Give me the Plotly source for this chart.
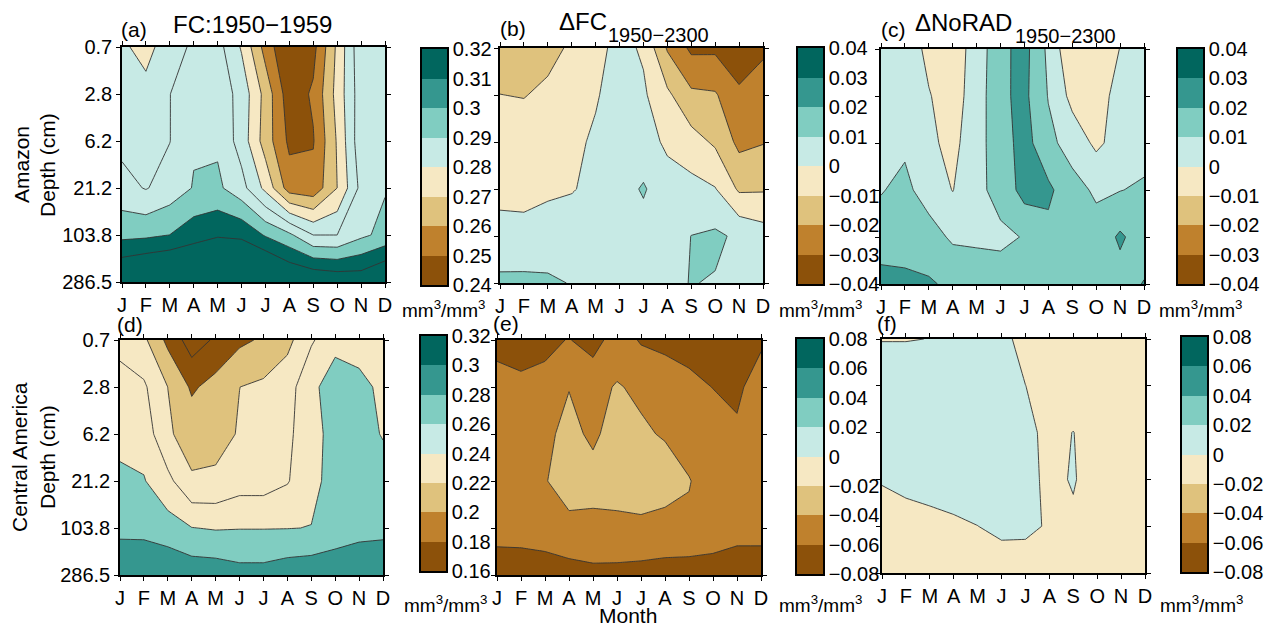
import plotly.graph_objects as go

# ---------------- data ----------------
months = ["J", "F", "M", "A", "M", "J", "J", "A", "S", "O", "N", "D"]
depth_labels = ["0.7", "2.8", "6.2", "21.2", "103.8", "286.5"]

# rows: soil depth (top -> bottom), columns: months J..D   (mm3/mm3)
fc_amazon = [
    [0.2815, 0.277, 0.2849, 0.292, 0.2937, 0.279, 0.2561, 0.2392, 0.2469, 0.272, 0.2976, 0.295],
    [0.2835, 0.2828, 0.2899, 0.294, 0.296, 0.2865, 0.2665, 0.244, 0.2515, 0.2735, 0.2959, 0.295],
    [0.2874, 0.287, 0.2898, 0.299, 0.2984, 0.2857, 0.2653, 0.2479, 0.2493, 0.271, 0.297, 0.2955],
    [0.2933, 0.2894, 0.2943, 0.3006, 0.302, 0.2935, 0.2774, 0.255, 0.2533, 0.270, 0.293, 0.2993],
    [0.3073, 0.3080, 0.3101, 0.316, 0.319, 0.3182, 0.309, 0.302, 0.290, 0.290, 0.298, 0.3028],
    [0.334, 0.3385, 0.341, 0.338, 0.34, 0.338, 0.342, 0.333, 0.331, 0.3285, 0.327, 0.334],
]
dfc_amazon = [
    [-0.015, -0.016, -0.013, -0.0085, -0.003, 0.003, -0.0013, -0.021, -0.032, -0.0318, -0.037, -0.032],
    [-0.0099, -0.0104, -0.008, -0.005, -0.0008, 0.004, 0.0015, -0.008, -0.018, -0.019, -0.028, -0.024],
    [-0.005, -0.005, -0.004, -0.002, 0.0013, 0.005, 0.004, -0.0017, -0.006, -0.0115, -0.0225, -0.0205],
    [-0.0045, -0.0049, -0.0026, -0.0009, 0.0036, 0.006, 0.011, 0.004, 0.0031, 0.0005, -0.0115, -0.011],
    [0.0055, 0.005, 0.0074, 0.008, 0.006, 0.006, 0.006, 0.006, 0.0101, 0.0117, 0.0083, 0.0045],
    [0.0114, 0.0116, 0.0107, 0.0098, 0.006, 0.005, 0.006, 0.008, 0.0103, 0.0094, 0.005, 0.004],
]
dnorad_amazon = [
    [0.005, 0.005, -0.0021, -0.005, 0.0041, 0.0175, 0.0233, 0.0078, -0.0085, -0.006, 0.0002, 0.004],
    [0.006, 0.0065, 0.0005, -0.004, 0.0045, 0.0183, 0.0223, 0.0095, -0.003, -0.004, 0.0033, 0.005],
    [0.007, 0.0085, 0.002, -0.0028, 0.0065, 0.0153, 0.024, 0.0125, 0.006, -0.002, 0.004, 0.006],
    [0.0095, 0.0122, 0.0059, -0.0003, 0.008, 0.0127, 0.024, 0.022, 0.0135, 0.0085, 0.0097, 0.0115],
    [0.014, 0.015, 0.0139, 0.0085, 0.0085, 0.0085, 0.0104, 0.0172, 0.016, 0.0139, 0.0215, 0.015],
    [0.0242, 0.0226, 0.0212, 0.0179, 0.015, 0.0135, 0.015, 0.015, 0.015, 0.015, 0.016, 0.0205],
]
fc_camerica = [
    [0.235, 0.224, 0.195, 0.17, 0.183, 0.196, 0.2027, 0.214, 0.238, 0.2513, 0.252, 0.25],
    [0.2461, 0.243, 0.2199, 0.197, 0.2073, 0.2199, 0.2238, 0.2328, 0.2528, 0.275, 0.2653, 0.256],
    [0.253, 0.252, 0.2225, 0.212, 0.214, 0.2213, 0.229, 0.236, 0.252, 0.268, 0.272, 0.258],
    [0.2649, 0.2612, 0.2456, 0.2223, 0.2231, 0.2313, 0.2313, 0.2385, 0.255, 0.2666, 0.275, 0.2734],
    [0.279, 0.279, 0.2685, 0.2605, 0.2585, 0.2593, 0.2593, 0.2595, 0.2604, 0.277, 0.2785, 0.279],
    [0.2832, 0.283, 0.2973, 0.293, 0.292, 0.2873, 0.2873, 0.292, 0.294, 0.2837, 0.2835, 0.283],
]
dfc_camerica = [
    [-0.065, -0.068, -0.065, -0.059, -0.069, -0.049, -0.062, -0.066, -0.07, -0.074, -0.075, -0.065],
    [-0.054, -0.056, -0.054, -0.041, -0.0447, -0.0388, -0.043, -0.047, -0.0533, -0.0605, -0.066, -0.045],
    [-0.05, -0.05, -0.047, -0.031, -0.046, -0.026, -0.0376, -0.0415, -0.0445, -0.048, -0.0553, -0.045],
    [-0.05, -0.049, -0.041, -0.032, -0.0284, -0.028, -0.036, -0.032, -0.0395, -0.045, -0.05, -0.05],
    [-0.056, -0.056, -0.05, -0.0447, -0.0484, -0.047, -0.0416, -0.0463, -0.0417, -0.05, -0.054, -0.054],
    [-0.066, -0.0655, -0.07, -0.0682, -0.0639, -0.0646, -0.0679, -0.068, -0.0717, -0.0685, -0.0698, -0.0698],
]
dnorad_camerica = [
    [-0.0006, -0.0006, 0.0002, 0.004, 0.004, 0.004, -0.0049, -0.006, -0.007, -0.007, -0.006, -0.006],
    [0.01, 0.01, 0.01, 0.01, 0.01, 0.008, 0.0001, -0.005, -0.006, -0.006, -0.006, -0.006],
    [0.008, 0.009, 0.01, 0.01, 0.01, 0.008, 0.003, -0.003, 0.0002, -0.005, -0.006, -0.006],
    [0.001, 0.004, 0.005, 0.006, 0.007, 0.006, 0.0035, -0.0025, 0.0008, -0.005, -0.006, -0.006],
    [-0.0067, -0.006, -0.0038, -0.002, -0.0001, 0.003, 0.0034, -0.0016, -0.0017, -0.005, -0.006, -0.006],
    [-0.01, -0.01, -0.01, -0.01, -0.008, -0.007, -0.0087, -0.008, -0.008, -0.008, -0.008, -0.008],
]

# ---------------- style ----------------
W, H = 1275, 624
OFF = 8  # page body margin offset of the rendered figure
FONT = "Liberation Sans, Arial, Helvetica, sans-serif"
BRBG = ["#8c510a", "#bf812d", "#dfc27d", "#f6e8c3", "#c7eae5", "#80cdc1", "#35978f", "#01665e"]
LINE = "#333333"


def fx(a, b):
    return [(a - OFF) / W, (b - OFF) / W]


def fy(top, bottom):
    return [1 - (bottom - OFF) / H, 1 - (top - OFF) / H]


def step_scale(colors):
    n = len(colors) - 1
    sc = []
    for i, c in enumerate(colors):
        lo = max(0.0, (i - 0.5) / n)
        hi = min(1.0, (i + 0.5) / n)
        sc.append([lo, c])
        sc.append([hi, c])
    return sc


def fmt(v):
    if abs(v) < 1e-12:
        return "0"
    return f"{v:g}".replace("-", "\u2212")


# panel spec: data, contour (start, end, size), band colours, plot px box, show y labels,
#             colourbar px box, colourbar (start, step, n levels)
panels = [
    dict(z=fc_amazon, c=(0.25, 0.32, 0.01),
         bands=["#8c510a", "#bf812d", "#dfc27d", "#f6e8c3", "#c7eae5", "#c7eae5", "#80cdc1", "#01665e", "#01665e"],
         box=(122, 385, 47, 282), ylab=True, cb=(422, 447, 49, 285), cbl=(0.24, 0.01, 9)),
    dict(z=dfc_amazon, c=(-0.03, 0.03, 0.01), bands=BRBG,
         box=(500, 763, 48, 283), ylab=False, cb=(798, 823, 48, 284), cbl=(-0.04, 0.01, 9)),
    dict(z=dnorad_amazon, c=(-0.03, 0.03, 0.01), bands=BRBG,
         box=(881, 1144, 49, 284), ylab=False, cb=(1178, 1203, 49, 284), cbl=(-0.04, 0.01, 9)),
    dict(z=fc_camerica, c=(0.18, 0.28, 0.02),
         bands=["#8c510a", "#8c510a", "#dfc27d", "#f6e8c3", "#f6e8c3", "#80cdc1", "#35978f"],
         box=(120, 383, 340, 575), ylab=True, cb=(421, 446, 336, 571), cbl=(0.16, 0.02, 9)),
    dict(z=dfc_camerica, c=(-0.06, 0.06, 0.02), bands=BRBG,
         box=(497, 761, 340, 575), ylab=False, cb=(797, 823, 339, 574), cbl=(-0.08, 0.02, 9)),
    dict(z=dnorad_camerica, c=(-0.06, 0.06, 0.02), bands=BRBG,
         box=(882, 1145, 339, 573), ylab=False, cb=(1182, 1207, 337, 572), cbl=(-0.08, 0.02, 9)),
]

fig = go.Figure()
layout = {}
n = 0
for p in panels:
    # ---- contour panel ----
    n += 1
    xa, ya = ("x", "y") if n == 1 else (f"x{n}", f"y{n}")
    s, e, d = p["c"]
    fig.add_trace(go.Contour(
        z=p["z"], x=list(range(12)), y=list(range(6)),
        autocontour=False,
        contours=dict(start=s, end=e, size=d, coloring="fill", showlines=True),
        line=dict(color=LINE, width=0.9, smoothing=0),
        colorscale=step_scale(p["bands"]), showscale=False, hoverinfo="skip",
        xaxis=xa, yaxis=ya))
    x0, x1, y0, y1 = p["box"]
    kx = "xaxis" if n == 1 else f"xaxis{n}"
    ky = "yaxis" if n == 1 else f"yaxis{n}"
    layout[kx] = dict(domain=fx(x0, x1), anchor=ya, range=[0, 11], automargin=False,
                      tickmode="array", tickvals=list(range(12)), ticktext=months,
                      ticks="outside", ticklen=4, tickwidth=1, tickcolor="black",
                      showline=True, linewidth=1.5, linecolor="black", mirror="ticks",
                      showgrid=False, zeroline=False,
                      tickfont=dict(family=FONT, size=20, color="black"))
    layout[ky] = dict(domain=fy(y0, y1), anchor=xa, range=[5, 0], automargin=False,
                      tickmode="array", tickvals=list(range(6)), ticktext=depth_labels,
                      showticklabels=p["ylab"],
                      ticks="outside", ticklen=4, tickwidth=1, tickcolor="black",
                      showline=True, linewidth=1.5, linecolor="black", mirror="ticks",
                      showgrid=False, zeroline=False,
                      tickfont=dict(family=FONT, size=20, color="black"))

    # ---- colour bar ----
    n += 1
    xa, ya = f"x{n}", f"y{n}"
    cs0, cst, cn = p["cbl"]
    levs = [round(cs0 + i * cst, 6) for i in range(cn)]
    mids = [round((levs[i] + levs[i + 1]) / 2, 6) for i in range(cn - 1)]
    fig.add_trace(go.Heatmap(
        z=[[i] for i in range(len(mids))], x=[0], y=mids,
        colorscale=step_scale(BRBG), zmin=0, zmax=len(mids) - 1,
        showscale=False, hoverinfo="skip", xaxis=xa, yaxis=ya))
    cx0, cx1, cy0, cy1 = p["cb"]
    layout[f"xaxis{n}"] = dict(domain=fx(cx0, cx1), anchor=ya, range=[-0.5, 0.5], automargin=False,
                               showticklabels=False, ticks="", showgrid=False, zeroline=False,
                               showline=True, linewidth=1.5, linecolor="black", mirror=True)
    layout[f"yaxis{n}"] = dict(domain=fy(cy0, cy1), anchor=xa, side="right", automargin=False,
                               range=[levs[0], levs[-1]],
                               tickmode="array", tickvals=levs, ticktext=[fmt(v) for v in levs],
                               ticks="", showgrid=False, zeroline=False,
                               showline=True, linewidth=1.5, linecolor="black", mirror=True,
                               tickfont=dict(family=FONT, size=20, color="black"))


def ann(text, x, y, size, xanchor="center", yanchor="middle", angle=0):
    return dict(text=text, x=(x - OFF) / W, y=1 - (y - OFF) / H, xref="paper", yref="paper",
                xanchor=xanchor, yanchor=yanchor, showarrow=False, textangle=angle,
                font=dict(family=FONT, size=size, color="black"))


unit = "mm<sup>3</sup>/mm<sup>3</sup>"
annotations = [
    ann("(a)", 119, 30, 21, "left"),
    ann("FC:1950\u22121959", 252, 24, 24),
    ann("(b)", 498, 29, 21, "left"),
    ann("\u0394FC", 557, 21, 24, "left"),
    ann("1950\u22122300", 606, 35, 20, "left"),
    ann("(c)", 879, 30, 21, "left"),
    ann("\u0394NoRAD", 913, 22, 24, "left"),
    ann("1950\u22122300", 1013, 36, 20, "left"),
    ann("(d)", 115, 324, 21, "left"),
    ann("(e)", 491, 323, 21, "left"),
    ann("(f)", 875, 323, 21, "left"),
    ann("Month", 628, 602, 21, "center", "top"),
    ann("Amazon", 21, 165, 21, angle=-90),
    ann("Depth (cm)", 47, 165, 21, angle=-90),
    ann("Central America", 19, 457, 21, angle=-90),
    ann("Depth (cm)", 47, 457, 21, angle=-90),
    ann(unit, 443, 309, 19),
    ann(unit, 820, 309, 19),
    ann(unit, 1200, 309, 19),
    ann(unit, 445, 604, 19),
    ann(unit, 820, 604, 19),
    ann(unit, 1201, 604, 19),
]

fig.update_layout(
    template="none",
    width=W, height=H, autosize=False,
    margin=dict(l=0, r=0, t=0, b=0, pad=0, autoexpand=False),
    paper_bgcolor="white", plot_bgcolor="white", showlegend=False,
    font=dict(family=FONT, size=20, color="black"),
    annotations=annotations, **layout)

fig.write_html("out.html")
